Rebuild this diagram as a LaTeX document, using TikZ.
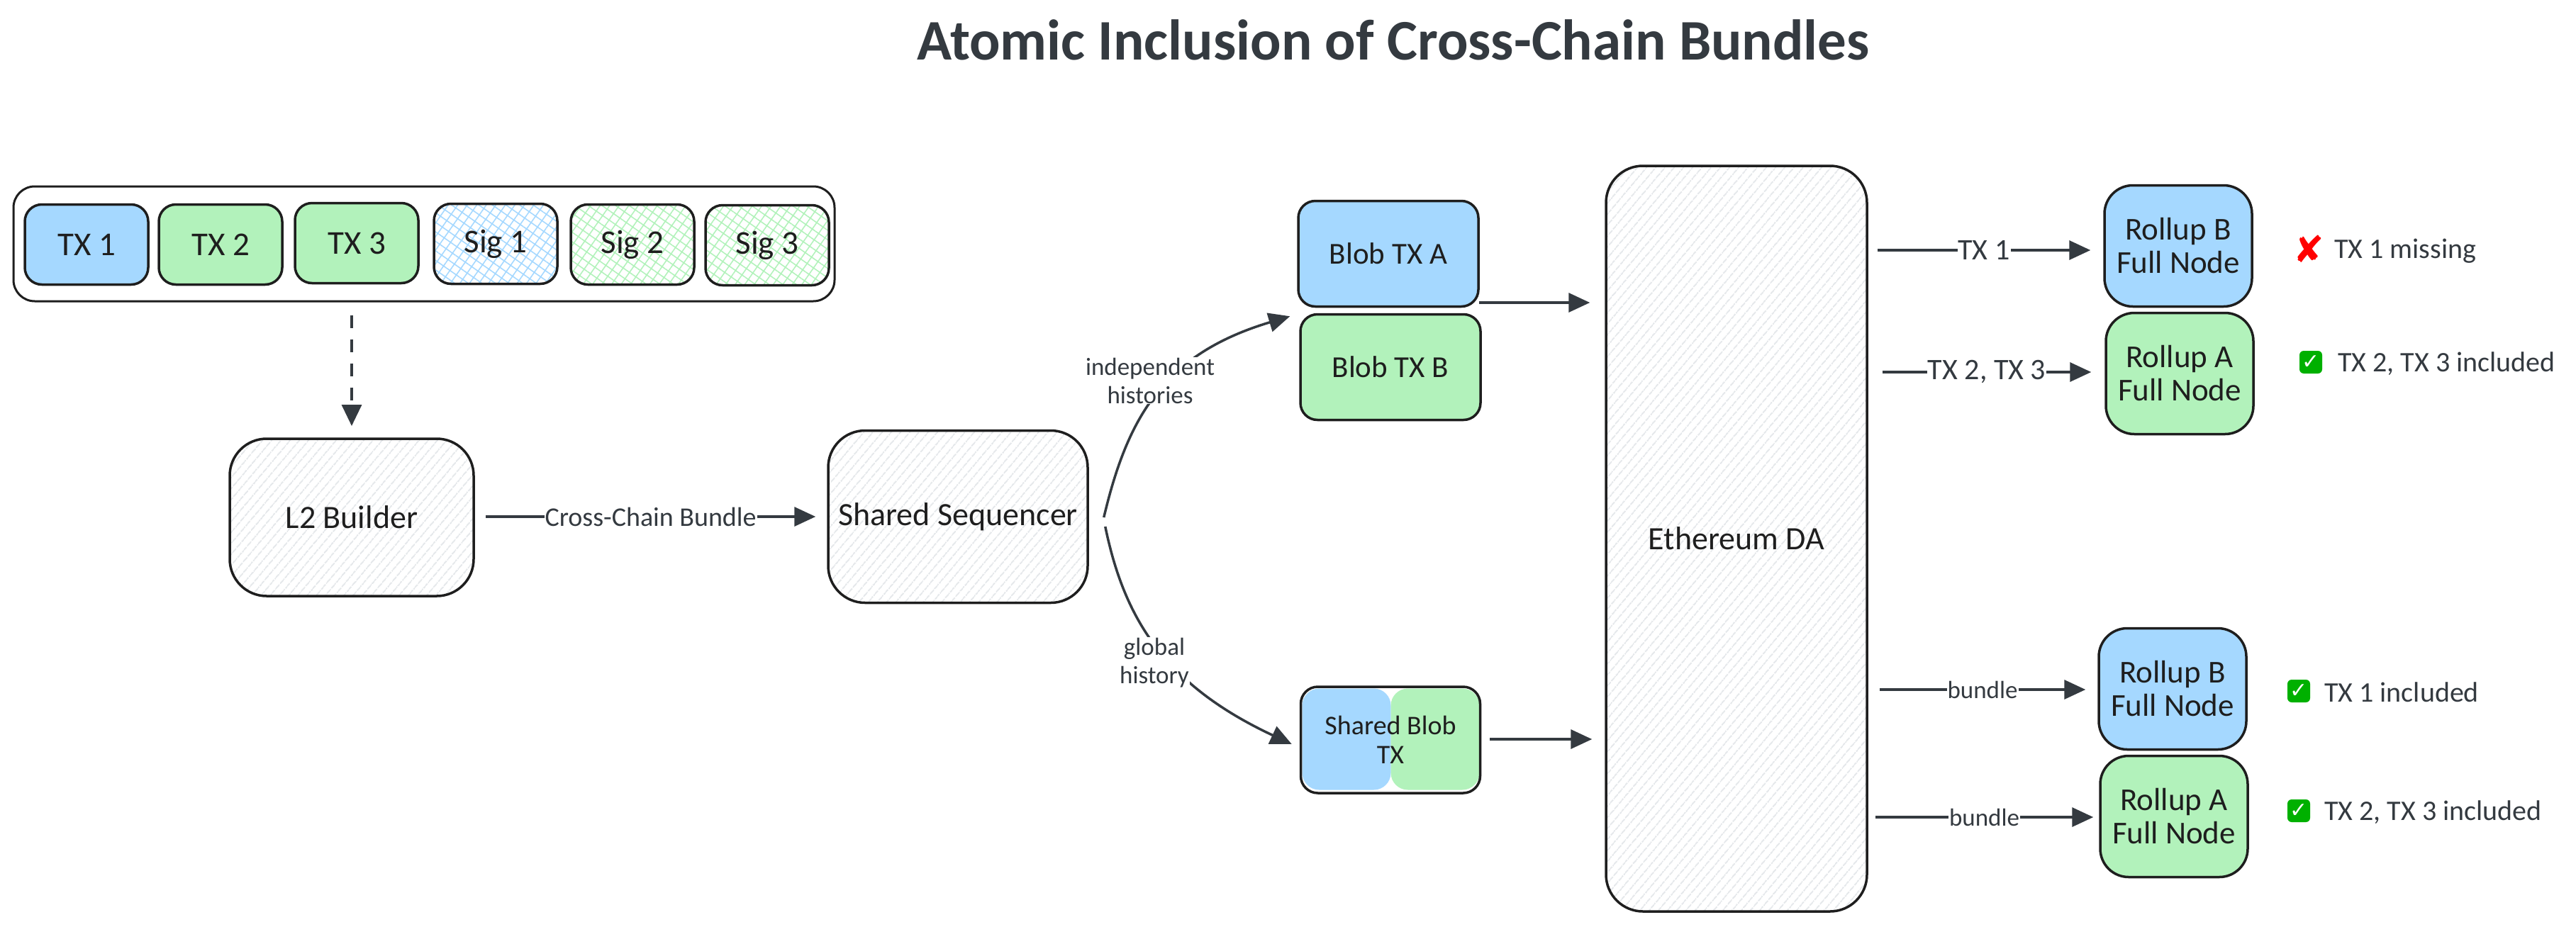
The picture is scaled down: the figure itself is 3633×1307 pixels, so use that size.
\documentclass[tikz,border=0pt]{standalone}
\usepackage{fontspec}
\setmainfont{Carlito}
\newfontfamily\symfont{DejaVu Sans}
\usetikzlibrary{arrows.meta,calc,patterns.meta}

\definecolor{inkdark}{HTML}{1E1E1E}
\definecolor{inklabel}{HTML}{343A40}
\definecolor{fillblue}{HTML}{A5D8FF}
\definecolor{fillgreen}{HTML}{B2F2BB}
\definecolor{hatchgrey}{HTML}{E4E7EA}
\definecolor{markgreen}{HTML}{00B000}

\begin{document}
\begin{tikzpicture}
  [
    x=1pt, y=-1pt,
    box/.style =
      {draw=inkdark, line width=3.5pt, rectangle, align=center, text=inkdark, inner sep=0pt},
    txbox/.style =
      {box, rounded corners=24pt, minimum width=174pt, minimum height=113pt,
       font=\fontsize{47}{50}\selectfont},
    blobbox/.style =
      {box, rounded corners=24pt, minimum width=254pt, minimum height=149pt,
       font=\fontsize{43}{41}\selectfont},
    rollbox/.style =
      {box, rounded corners=40pt, minimum width=208pt, minimum height=171pt,
       font=\fontsize{45}{47}\selectfont},
    bigbox/.style =
      {box, rounded corners=52pt, font=\fontsize{46}{50}\selectfont,
       pattern={Lines[angle=50, distance=10.5pt, line width=2pt]}, pattern color=hatchgrey},
    sigblue/.style =
      {pattern={Hatch[angle=55, distance=11pt, line width=1.6pt]}, pattern color=fillblue},
    siggreen/.style =
      {pattern={Hatch[angle=55, distance=11pt, line width=1.6pt]}, pattern color=fillgreen},
    halfbox/.style =
      {rounded corners=24pt, minimum width=125pt, minimum height=143pt, inner sep=0pt},
    conn/.style =
      {-{Triangle[length=30pt, width=27pt]}, line width=3.5pt, draw=inklabel},
    edgelbl/.style =
      {fill=white, inner sep=1pt, align=center, text=inklabel, font=\fontsize{35}{40}\selectfont},
    txlbl/.style =
      {edgelbl, font=\fontsize{42}{40}\selectfont},
    note/.style =
      {anchor=west, inner sep=0pt, text=inklabel, font=\fontsize{40}{42}\selectfont},
    okmark/.style =
      {fill=markgreen, rounded corners=6pt, minimum width=32pt, minimum height=32pt, inner sep=0pt,
       text=white, font=\symfont\fontsize{30}{30}\selectfont}
  ]

\useasboundingbox (0,0) rectangle (3633,1307);

\node[text=inklabel, font=\fontsize{81}{90}\selectfont\bfseries] (title) at (1965,56)
  {Atomic Inclusion of Cross-Chain Bundles};

% the bundle
\node[box, line width=3pt, rounded corners=30pt, minimum width=1158pt, minimum height=162pt] (bundle) at (598,344) {};
\node[txbox, fill=fillblue] (tx1) at (122,345) {TX 1};
\node[txbox, fill=fillgreen] (tx2) at (311,345) {TX 2};
\node[txbox, fill=fillgreen] (tx3) at (503,343) {TX 3};
\node[txbox, sigblue] (sig1) at (699,344) {Sig 1};
\node[txbox, siggreen] (sig2) at (892,345) {Sig 2};
\node[txbox, siggreen] (sig3) at (1082,346) {Sig 3};

\node[bigbox, minimum width=344pt, minimum height=222pt] (builder) at (496,730) {L2 Builder};
\node[bigbox, minimum width=366pt, minimum height=243pt] (seq) at (1351,729) {Shared Sequencer};
\node[bigbox, minimum width=368pt, minimum height=1052pt] (da) at (2449,760) {Ethereum DA};

\node[blobbox, fill=fillblue] (blobA) at (1958,358) {Blob TX A};
\node[blobbox, fill=fillgreen] (blobB) at (1961,518) {Blob TX B};

\node[halfbox, fill=fillblue] (halfA) at (1899,1043) {};
\node[halfbox, fill=fillgreen] (halfB) at (2024,1043) {};
\node[blobbox, minimum width=253pt, minimum height=150pt, font=\fontsize{38}{41}\selectfont] (sharedblob) at (1961,1044) {Shared Blob\\TX};

\node[rollbox, fill=fillblue] (rollB1) at (3072,347) {Rollup B\\Full Node};
\node[rollbox, fill=fillgreen] (rollA1) at (3074,527) {Rollup A\\Full Node};
\node[rollbox, fill=fillblue] (rollB2) at (3064,972) {Rollup B\\Full Node};
\node[rollbox, fill=fillgreen] (rollA2) at (3066,1152) {Rollup A\\Full Node};

% to the sequencer
\draw [conn, dashed, dash pattern=on 18pt off 16pt, -{Triangle[length=30pt, width=28pt]}]
  ($(builder.north |- bundle.south)+(0,18)$) -- ($(builder.north)+(0,-17)$);
\draw [conn] ($(builder.east)+(16,-1)$) -- ($(seq.west)+(-16,0)$)
  node[midway, edgelbl, font=\fontsize{38}{40}\selectfont] (lblcross) {Cross-Chain Bundle};

% the two kinds of history
\draw [conn] ($(seq.east)+(21,1)$) .. controls (1590,590) and (1640,500) .. ($(blobA.south west)+(-10,12)$);
\node[edgelbl] (lblindep) at (1622,537) {independent\\histories};
\draw [conn] ($(seq.east)+(23,14)$) .. controls (1585,870) and (1640,965) .. ($(sharedblob.west)+(-11,6)$);
\node[edgelbl] (lblglobal) at (1628,935) {global\\history};

\draw [conn] ($(blobA.east)+(-1,69)$) -- ($(da.west)+(-21,-333)$);
\draw [conn] ($(sharedblob.east)+(12,-1)$) -- ($(da.west)+(-18,283)$);

% out of the DA
\draw [conn] ($(da.east |- rollB1)+(13,6)$) -- ($(rollB1.west)+(-18,6)$)
  node[midway, txlbl] (lbltx1) {TX 1};
\draw [conn] ($(da.east |- rollA1)+(20,-2)$) -- ($(rollA1.west)+(-19,-2)$)
  node[midway, txlbl] (lbltx23) {TX 2, TX 3};
\draw [conn] ($(da.east |- rollB2)+(16,1)$) -- ($(rollB2.west)+(-17,1)$)
  node[midway, edgelbl] (lblbundleB) {bundle};
\draw [conn] ($(da.east |- rollA2)+(10,1)$) -- ($(rollA2.west)+(-8,1)$)
  node[midway, edgelbl] (lblbundleA) {bundle};

% results
\node[inner sep=0pt, text=red, font=\symfont\fontsize{52}{52}\selectfont] (crossmark) at (3256,351) {✘};
\node[note] (res1) at (3292,354) {TX 1 missing};
\node[okmark] (ok1) at (3259,511) {✓};
\node[note] (res2) at (3297,513) {TX 2, TX 3 included};
\node[okmark] (ok2) at (3242,975) {✓};
\node[note] (res3) at (3278,977) {TX 1 included};
\node[okmark] (ok3) at (3242,1144) {✓};
\node[note] (res4) at (3278,1146) {TX 2, TX 3 included};

\end{tikzpicture}
\end{document}
